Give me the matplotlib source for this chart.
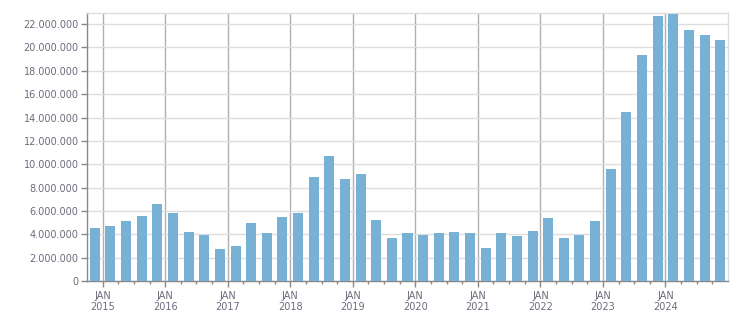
import matplotlib
matplotlib.use("Agg")
import matplotlib.pyplot as plt
from matplotlib.ticker import FuncFormatter, FixedLocator

# Quarterly values, Q4 2014 .. Q4 2024
quarters = [f"{y}Q{q}" for y in range(2014, 2025) for q in range(1, 5)][3:]
values = [4.54, 4.71, 5.14, 5.57, 6.60, 5.83, 4.20, 3.94, 2.74, 3.00, 4.97,
          4.11, 5.49, 5.83, 8.91, 10.71, 8.74, 9.17, 5.23, 3.69, 4.11, 3.94,
          4.11, 4.20, 4.11, 2.83, 4.11, 3.86, 4.29, 5.40, 3.69, 3.94, 5.14,
          9.60, 14.49, 19.37, 22.71, 22.89, 21.51, 21.09, 20.66]
values = [v * 1e6 for v in values]
years = list(range(2015, 2025))
month_label = "JAN"

fig = plt.figure(figsize=(7.51, 3.13), dpi=100)
ax = fig.add_axes([87/751, 1 - 281/313, (728-87)/751, (281-13)/313])

x = [i + 0.5 for i in range(len(values))]
ax.bar(x, values, width=0.64, color="#77b1d3", zorder=3)

ax.set_xlim(0, len(values))
ax.set_ylim(0, 22.95e6)

major = [1 + 4 * (y - 2015) for y in years]
ax.xaxis.set_major_locator(FixedLocator(major))
ax.set_xticklabels([f"{month_label}\n{y}" for y in years])
ax.xaxis.set_minor_locator(FixedLocator([i for i in range(1, len(values)) if i not in major]))

ax.yaxis.set_major_locator(FixedLocator([i * 2e6 for i in range(12)]))
ax.yaxis.set_major_formatter(FuncFormatter(lambda v, p: f"{int(v):,}".replace(",", ".")))

lab = "#6b6b7d"
ax.tick_params(axis="y", labelsize=7, colors="#888888", labelcolor=lab, length=4, width=1, pad=2)
ax.tick_params(axis="x", which="major", labelsize=7, colors="#888888", labelcolor=lab, length=4, width=1, pad=3)
ax.tick_params(axis="x", which="minor", colors="#888888", length=2.5, width=1)

ax.grid(axis="y", color="#dddddd", linewidth=1, zorder=0)
for m in major:
    ax.axvline(m, color="#b0b0b0", linewidth=1, zorder=1)

for s in ["top", "right"]:
    ax.spines[s].set_color("#dddddd")
    ax.spines[s].set_linewidth(1)
for s in ["left", "bottom"]:
    ax.spines[s].set_color("#888888")
    ax.spines[s].set_linewidth(1)

fig.savefig("out.png", dpi=100)
